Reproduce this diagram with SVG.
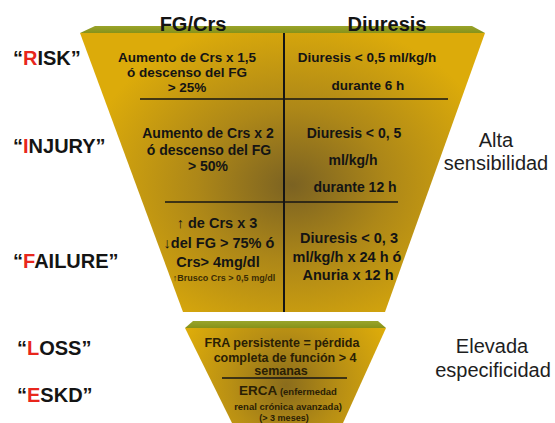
<svg xmlns="http://www.w3.org/2000/svg" width="555" height="423" viewBox="0 0 555 423">
  <defs>
    <radialGradient id="gUp" gradientUnits="userSpaceOnUse" cx="292" cy="185" r="210" gradientTransform="translate(292 185) scale(1 0.8) translate(-292 -185)">
      <stop offset="0" stop-color="#7b6222"/>
      <stop offset="0.45" stop-color="#ad8718"/>
      <stop offset="1" stop-color="#dcab0a"/>
    </radialGradient>
    <radialGradient id="gLow" gradientUnits="userSpaceOnUse" cx="286" cy="385" r="110">
      <stop offset="0" stop-color="#8a6c1c"/>
      <stop offset="0.5" stop-color="#b88f14"/>
      <stop offset="1" stop-color="#dcab0a"/>
    </radialGradient>
    <linearGradient id="gTop" x1="0" y1="0" x2="0" y2="1">
      <stop offset="0" stop-color="#9aa42a"/>
      <stop offset="1" stop-color="#86921a"/>
    </linearGradient>
    <style>
      text { font-family: "Liberation Sans", Arial, sans-serif; fill: #141414; }
      .lbl { font-size: 20px; font-weight: bold; }
      .red { fill: #e8261c; }
      .side { font-size: 20px; text-anchor: middle; fill: #1e1e1e; }
      .hdr { font-size: 20px; font-weight: bold; text-anchor: middle; }
      .t135 { font-size: 13.5px; font-weight: bold; text-anchor: middle; }
      .t14 { font-size: 14px; font-weight: bold; text-anchor: middle; }
      .t145 { font-size: 14.5px; font-weight: bold; text-anchor: middle; }
      .tsm { font-size: 9px; font-weight: bold; text-anchor: middle; fill: #3a2c05; }
      .low { font-size: 12.5px; font-weight: bold; text-anchor: middle; fill: #2a2005; }
      .lowsm { font-size: 9.5px; font-weight: bold; text-anchor: middle; fill: #2a2005; }
      .div { stroke: #151515; fill: none; }
    </style>
  </defs>

  <!-- Upper funnel shape -->
  <g id="upper-funnel">
    <polygon points="95,26 472,26 485,33 80,33" fill="url(#gTop)"/>
    <polygon points="80,33 485,33 385,312 183,312" fill="url(#gUp)"/>
  </g>

  <!-- Lower funnel shape -->
  <g id="lower-funnel">
    <polygon points="193,321 378,321 386,328 185,328" fill="url(#gTop)"/>
    <polygon points="185,328 386,328 343,423 232,423" fill="url(#gLow)"/>
  </g>

  <!-- Divider lines -->
  <g id="dividers" class="div">
    <line x1="284" y1="33" x2="284" y2="312" stroke-width="2"/>
    <line x1="140" y1="99" x2="448" y2="99" stroke-width="1.5"/>
    <line x1="165" y1="202" x2="398" y2="202" stroke-width="1.5"/>
    <line x1="222" y1="378" x2="347" y2="378" stroke-width="1.5"/>
  </g>

  <!-- Column headers -->
  <g id="headers">
    <text class="hdr" x="193" y="31">FG/Crs</text>
    <text class="hdr" x="387" y="31">Diuresis</text>
  </g>

  <!-- RISK row -->
  <g id="risk">
    <text class="lbl" x="13" y="65">“<tspan class="red">R</tspan>ISK”</text>
    <text class="t135" x="187" y="62">Aumento  de Crs x 1,5</text>
    <text class="t135" x="187" y="77">ó descenso del FG</text>
    <text class="t135" x="187" y="92">&gt; 25%</text>
    <text class="t135" x="367" y="62">Diuresis &lt; 0,5 ml/kg/h</text>
    <text class="t135" x="368" y="90">durante 6 h</text>
  </g>

  <!-- INJURY row -->
  <g id="injury">
    <text class="lbl" x="13" y="153">“<tspan class="red">I</tspan>NJURY”</text>
    <text class="t14" x="208" y="138">Aumento  de Crs x 2</text>
    <text class="t14" x="209" y="155">ó descenso del FG</text>
    <text class="t14" x="208" y="171">&gt; 50%</text>
    <text class="t14" x="354" y="138">Diuresis &lt; 0, 5</text>
    <text class="t14" x="353" y="165">ml/kg/h</text>
    <text class="t14" x="355" y="192">durante 12 h</text>
  </g>

  <!-- FAILURE row -->
  <g id="failure">
    <text class="lbl" x="13" y="268">“<tspan class="red">F</tspan>AILURE”</text>
    <text class="t145" x="217" y="228">↑ de Crs x 3</text>
    <text class="t145" x="219" y="248">↓del FG &gt; 75% ó</text>
    <text class="t145" x="218" y="267">Crs&gt; 4mg/dl</text>
    <text class="tsm" x="224" y="281">↑Brusco Crs &gt; 0,5 mg/dl</text>
    <text class="t145" x="349" y="243">Diuresis &lt; 0, 3</text>
    <text class="t145" x="347" y="262">ml/kg/h  x 24 h ó</text>
    <text class="t145" x="348" y="280">Anuria  x 12 h</text>
  </g>

  <!-- LOSS row -->
  <g id="loss">
    <text class="lbl" x="17" y="355">“<tspan class="red">L</tspan>OSS”</text>
    <text class="low" x="282" y="347">FRA persistente = pérdida</text>
    <text class="low" x="285" y="362">completa de función &gt; 4</text>
    <text class="low" x="281" y="375">semanas</text>
  </g>

  <!-- ESKD row -->
  <g id="eskd">
    <text class="lbl" x="17" y="402">“<tspan class="red">E</tspan>SKD”</text>
    <text x="239" y="395" style="font-weight:bold;fill:#2a2005"><tspan font-size="13.5">ERCA</tspan><tspan font-size="9.5"> (enfermedad</tspan></text>
    <text class="lowsm" x="288" y="410">renal crónica avanzada)</text>
    <text class="lowsm" x="284" y="421" style="font-size:9px">(&gt; 3 meses)</text>
  </g>

  <!-- Side annotations -->
  <g id="sensitivity">
    <text class="side" x="496" y="147">Alta</text>
    <text class="side" x="496" y="170">sensibilidad</text>
  </g>
  <g id="specificity">
    <text class="side" x="492" y="353">Elevada</text>
    <text class="side" x="493" y="377">especificidad</text>
  </g>
</svg>
